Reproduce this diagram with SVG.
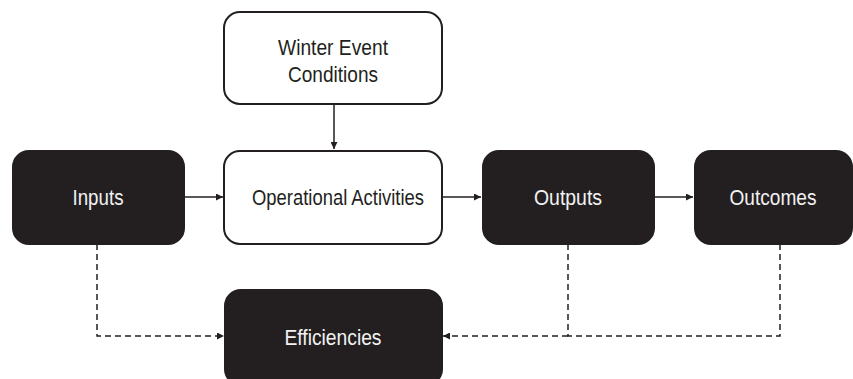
<svg xmlns="http://www.w3.org/2000/svg" width="853" height="379" viewBox="0 0 853 379">
<defs>
<style>
.dark rect{fill:#231f20;stroke:#231f20;stroke-width:2}
.light rect{fill:#fff;stroke:#231f20;stroke-width:2}
text{font-family:"Liberation Sans",Arial,sans-serif;font-size:22px;text-anchor:middle;dominant-baseline:central}
.dark text{fill:#f2f2f2}
.light text{fill:#231f20}
.solid{stroke:#231f20;stroke-width:1.5;fill:none}
.dash{stroke:#231f20;stroke-width:1.5;fill:none;stroke-dasharray:6 4}
</style>
<marker id="ah" viewBox="0 0 10 10" refX="10" refY="5" markerWidth="7" markerHeight="7" markerUnits="userSpaceOnUse" orient="auto">
<path d="M0,0 L10,5 L0,10 z" fill="#231f20"/>
</marker>
</defs>
<rect width="853" height="379" fill="#fff"/>
<g id="connectors">
<line class="solid" x1="334" y1="104" x2="334" y2="149" marker-end="url(#ah)"/>
<line class="solid" x1="184" y1="197" x2="223" y2="197" marker-end="url(#ah)"/>
<line class="solid" x1="442" y1="197" x2="481" y2="197" marker-end="url(#ah)"/>
<line class="solid" x1="654" y1="197" x2="693" y2="197" marker-end="url(#ah)"/>
<polyline class="dash" points="97,244 97,336 224,336" marker-end="url(#ah)"/>
<polyline class="dash" points="568,244 568,336 780,336 780,244"/>
<line class="dash" x1="568" y1="336" x2="443" y2="336" marker-end="url(#ah)"/>
</g>
<g id="winter" class="light">
<rect x="224" y="12" width="218" height="92" rx="16"/>
<text x="333" y="47" textLength="110" lengthAdjust="spacingAndGlyphs">Winter Event</text>
<text x="333" y="74" textLength="90" lengthAdjust="spacingAndGlyphs">Conditions</text>
</g>
<g id="inputs" class="dark">
<rect x="13" y="151" width="171" height="93" rx="16"/>
<text x="98" y="197" textLength="51" lengthAdjust="spacingAndGlyphs">Inputs</text>
</g>
<g id="operational" class="light">
<rect x="224" y="151" width="218" height="93" rx="16"/>
<text x="338" y="197" textLength="172" lengthAdjust="spacingAndGlyphs">Operational Activities</text>
</g>
<g id="outputs" class="dark">
<rect x="483" y="151" width="171" height="93" rx="16"/>
<text x="568" y="197" textLength="68" lengthAdjust="spacingAndGlyphs">Outputs</text>
</g>
<g id="outcomes" class="dark">
<rect x="695" y="151" width="157" height="93" rx="16"/>
<text x="773" y="197" textLength="87" lengthAdjust="spacingAndGlyphs">Outcomes</text>
</g>
<g id="efficiencies" class="dark">
<rect x="225" y="290" width="217" height="95" rx="16"/>
<text x="333" y="337" textLength="97" lengthAdjust="spacingAndGlyphs">Efficiencies</text>
</g>
</svg>
